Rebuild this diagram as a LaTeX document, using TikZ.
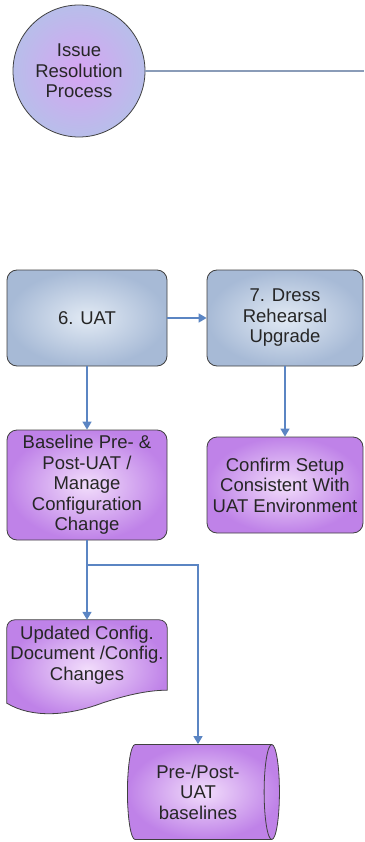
\documentclass[tikz,border=0pt]{standalone}
\usepackage{fontspec}
\setmainfont{Liberation Sans}
\usetikzlibrary{shapes.geometric, arrows.meta, calc, backgrounds}
\definecolor{edgeblue}{HTML}{5B85C3}
\definecolor{lineblue}{HTML}{8A9CB8}
\definecolor{blueout}{HTML}{A7BAD6}
\definecolor{bluein}{HTML}{E2EAF4}
\definecolor{purpout}{HTML}{BF82E8}
\definecolor{purpin}{HTML}{F2DDFB}
\definecolor{circout}{HTML}{B8BEEA}
\definecolor{circin}{HTML}{D6A4F2}

\begin{document}
\begin{tikzpicture}[x=1pt, y=-1pt,
  txt/.style={align=center, text=black!85, font=\fontsize{18.5}{20.5}\selectfont},
  stepbox/.style={txt, draw=black!75, thick, rounded corners=10pt, inner color=bluein, outer color=blueout},
  taskbox/.style={txt, draw=black!75, thick, rounded corners=10pt, inner color=purpin, outer color=purpout},
  flow/.style={-{Triangle[length=8pt,width=9pt]}, edgeblue, line width=1.6pt}]
\useasboundingbox (0,0) rectangle (364,842);
\node[txt, draw=black!75, thick, circle, minimum size=132pt, inner sep=0, inner color=circin, outer color=circout] (irp) at (79,71) {Issue\\Resolution\\Process};
\coordinate (rimR) at (364,71);
\node[stepbox, minimum width=160pt, minimum height=96pt] (uat) at (87,318) {6. UAT};
\node[stepbox, minimum width=156pt, minimum height=96pt] (dress) at (285,318) {7. Dress\\Rehearsal\\Upgrade};
\node[taskbox, minimum width=160pt, minimum height=110pt] (base) at (87,485) {Baseline Pre- \&\\Post-UAT /\\Manage\\Configuration\\Change};
\node[taskbox, minimum width=156pt, minimum height=96pt] (confirm) at (285,485) {Confirm Setup\\Consistent With\\UAT Environment};
\node[txt, minimum width=160pt, minimum height=70pt, inner sep=0] (doc) at (87,655) {Updated Config.\\Document /Config.\\Changes};
\node[txt, draw=black!75, thick, shape=cylinder, aspect=0.25, minimum width=95pt, minimum height=152pt, inner color=purpin, outer color=purpout] (bl) at (198,792) {Pre-/Post-\\UAT\\baselines};
\coordinate (split) at (87,565);
% document shape
\begin{pgfonlayer}{background}
\path[draw=black!75, thick, inner color=purpin, outer color=purpout] (doc.south east) [rounded corners=8pt] -- (doc.north east) -- (doc.north west) [sharp corners] -- ($(doc.south west)+(0,13)$) .. controls ($(doc.south west)+(25,28)$) and ($(doc.south west)+(60,26)$) .. ($(doc.south west)+(95,13)$) .. controls ($(doc.south west)+(125,3)$) and ($(doc.south west)+(145,0)$) .. (doc.south east) -- cycle;
\end{pgfonlayer}
% Arrows
\draw[lineblue, line width=1.2pt] (irp) -- (rimR);
\draw[flow] (uat) -- (dress);
\draw[flow] (uat) -- (base);
\draw[flow] (dress) -- (confirm);
\draw[flow] (base) -- (doc);
\draw[flow] (split) -| (bl);
\end{tikzpicture}
\end{document}
